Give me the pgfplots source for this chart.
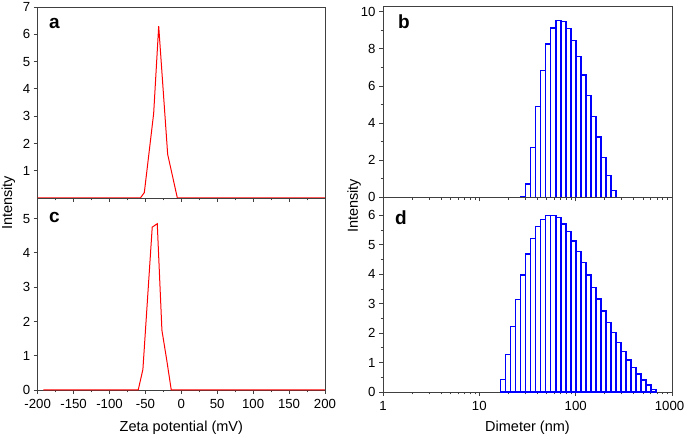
\documentclass[border=0pt]{standalone}
\usepackage{fontspec}
\setmainfont{Liberation Sans}
\usepackage{pgfplots}
\pgfplotsset{compat=1.18}
\begin{document}
\begin{tikzpicture}
\useasboundingbox (0pt,0pt) rectangle (685pt,439pt);
\pgfplotsset{
  every axis/.append style={
    scale only axis, clip=false,
    axis line style={black!75, line width=0.8pt},
    every tick/.style={black!75, line width=0.8pt},
    tick align=outside,
    xtick pos=left, ytick pos=left,
    major tick length=4pt, minor tick length=2.5pt,
    tick label style={font=\fontsize{13.2}{13.2}\selectfont},
    xticklabel style={yshift=-1.5pt},
  }
}
% panel a
\begin{axis}[at={(37.67pt,241pt)}, anchor=south west, width=287.3pt, height=191pt,
  xmin=-200, xmax=200, ymin=0, ymax=7,
  xtick={-200,-150,-100,-50,0,50,100,150,200}, xticklabels={},
  minor xtick={-175,-125,-75,-25,25,75,125,175},
  ytick={1,2,3,4,5,6,7}, yticklabels={1,2,3,4,5,6,7}]
\addplot[red, line width=1pt] coordinates {(-200,0) (-57,0) (-51.5,0.2) (-38.5,3.1) (-31.5,6.3) (-19,1.6) (-5.5,0) (200,0)};
\end{axis}
% panel c
\begin{axis}[at={(37.67pt,49pt)}, anchor=south west, width=287.3pt, height=192pt,
  xmin=-200, xmax=200, ymin=0, ymax=5.6,
  xtick={-200,-150,-100,-50,0,50,100,150,200},
  xticklabels={-200,-150,-100,-50,0,50,100,150,200},
  minor xtick={-175,-125,-75,-25,25,75,125,175},
  ytick={0,1,2,3,4,5}, yticklabels={0,1,2,3,4,5}]
\addplot[red, line width=1pt] coordinates {(-192,0) (-60,0) (-53.5,0.6) (-40.5,4.75) (-33.5,4.85) (-27,1.74) (-20.5,0.9) (-14,0) (200,0)};
\end{axis}
% panel b
\begin{axis}[at={(383pt,241.7pt)}, anchor=south west, width=289pt, height=190.6pt,
  xmode=log, xmin=1, xmax=1000, ymin=0, ymax=10.27,
  xtick={1,10,100,1000}, xticklabels={},
  minor xtick={2,3,4,5,6,7,8,9,20,30,40,50,60,70,80,90,200,300,400,500,600,700,800,900},
  ytick={0,2,4,6,8,10}, yticklabels={0,2,4,6,8,10}, minor ytick={1,3,5,7,9}]
\addplot[ybar interval, draw=blue, fill=white, line width=1.4pt] table {
x y
26.85 0.05
30.28 0.72
34.14 2.67
38.48 4.89
43.39 6.83
48.92 8.26
55.16 9.12
62.19 9.52
70.12 9.48
79.05 9.09
89.13 8.46
100.5 7.60
113.3 6.60
127.8 5.50
144.0 4.35
162.4 3.24
183.1 2.13
206.4 1.16
232.7 0.38
262.4 0
};
\end{axis}
% panel d
\begin{axis}[at={(383pt,47pt)}, anchor=south west, width=289pt, height=194.7pt,
  xmode=log, xmin=1, xmax=1000, ymin=0, ymax=6.61,
  xtick={1,10,100,1000}, xticklabels={1,10,100,{1000\kern5pt}},
  minor xtick={2,3,4,5,6,7,8,9,20,30,40,50,60,70,80,90,200,300,400,500,600,700,800,900},
  ytick={0,1,2,3,4,5,6}, yticklabels={0,1,2,3,4,5,6},
  minor ytick={0.5,1.5,2.5,3.5,4.5,5.5}]
\addplot[ybar interval, draw=blue, fill=white, line width=1.4pt] table {
x y
16.62 0.43
18.74 1.27
21.12 2.22
23.82 3.15
26.85 3.97
30.28 4.69
34.14 5.22
38.48 5.62
43.39 5.86
48.92 6.00
55.16 6.00
62.19 5.92
70.12 5.71
79.05 5.45
89.13 5.13
100.5 4.77
113.3 4.39
127.8 3.97
144.0 3.55
162.4 3.16
183.1 2.75
206.4 2.36
232.7 2.02
262.4 1.68
295.8 1.37
333.5 1.09
376.0 0.83
423.9 0.61
478.0 0.41
538.9 0.24
607.6 0.09
685.0 0
};
\end{axis}
% labels
\node[font=\fontsize{14.5}{14.5}\selectfont] at (181.3pt,11pt) {Zeta potential (mV)};
\node[font=\fontsize{14.5}{14.5}\selectfont] at (527.5pt,11pt) {Dimeter (nm)};
\node[font=\fontsize{14.5}{14.5}\selectfont, rotate=90] at (8.5pt,236pt) {Intensity};
\node[font=\fontsize{14.5}{14.5}\selectfont, rotate=90] at (354pt,233pt) {Intensity};
\node[font=\fontsize{19}{19}\selectfont\bfseries, anchor=base west, inner sep=0pt] at (49pt,410pt) {a};
\node[font=\fontsize{19}{19}\selectfont\bfseries, anchor=base west, inner sep=0pt] at (49pt,216pt) {c};
\node[font=\fontsize{19}{19}\selectfont\bfseries, anchor=base west, inner sep=0pt] at (398pt,410pt) {b};
\node[font=\fontsize{19}{19}\selectfont\bfseries, anchor=base west, inner sep=0pt] at (395pt,214pt) {d};
\end{tikzpicture}
\end{document}
